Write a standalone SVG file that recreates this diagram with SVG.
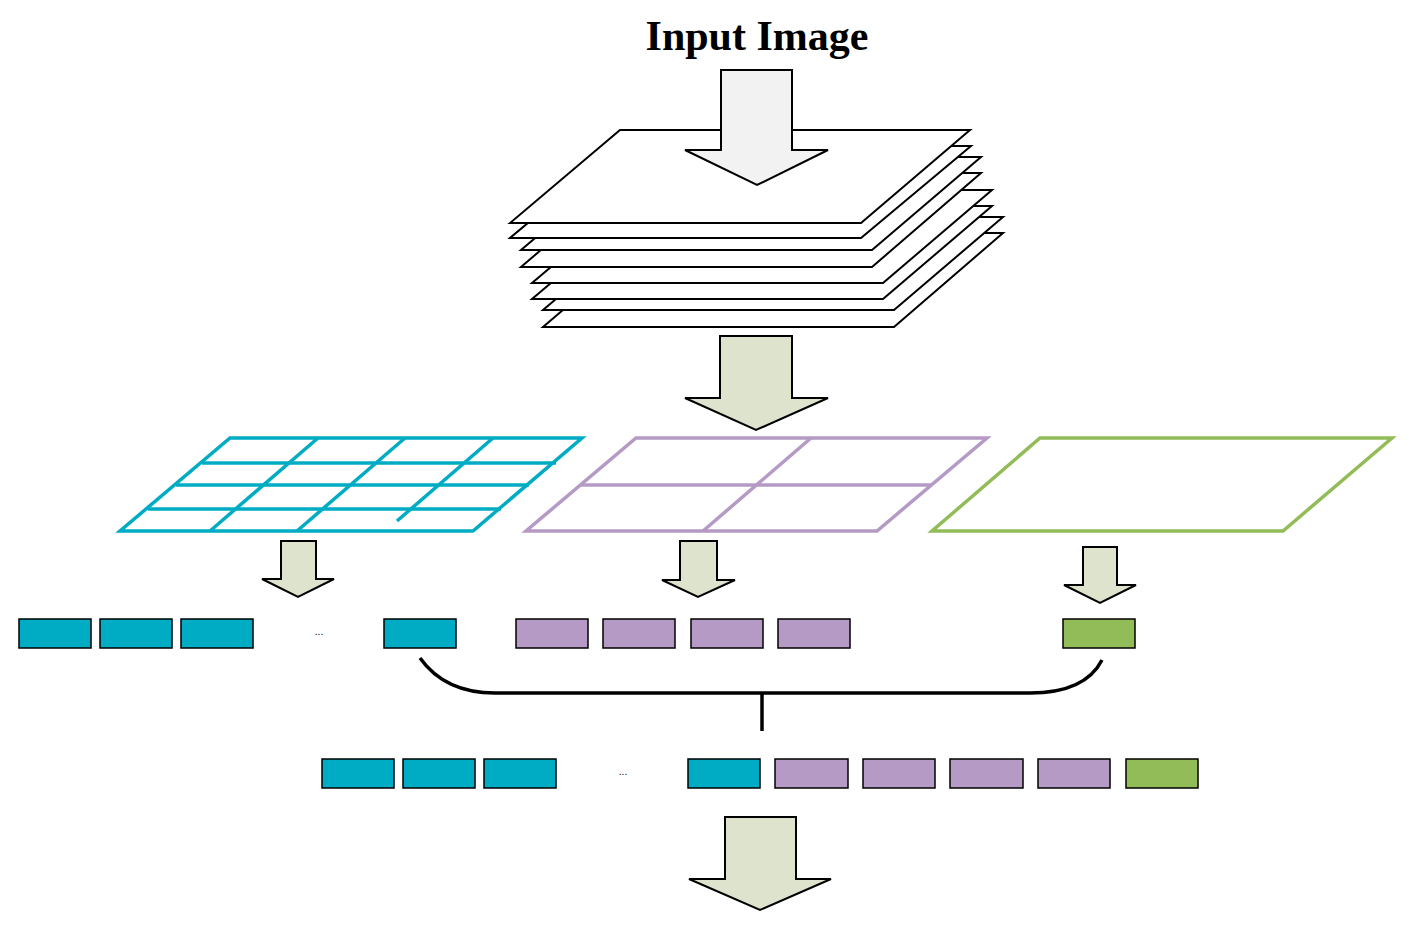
<svg xmlns="http://www.w3.org/2000/svg" width="1409" height="936" viewBox="0 0 1409 936">
<style>
.sheet{fill:#fff;stroke:#000;stroke-width:2;stroke-linejoin:miter}
.arr{fill:#dde3cc;stroke:#000;stroke-width:2}
.c{fill:#00acc4;stroke:#000;stroke-width:1.5}
.p{fill:#b49ac4;stroke:#000;stroke-width:1.5}
.g{fill:#92bc58;stroke:#000;stroke-width:1.5}
.dots{font-family:"Liberation Sans",sans-serif;font-size:10px;fill:#000}
</style>
<rect width="1409" height="936" fill="#fff"/>
<text id="title" x="757" y="50" text-anchor="middle" font-family="'Liberation Serif',serif" font-weight="bold" font-size="42">Input Image</text>
<g id="stack">
<polygon class="sheet" points="543,327 894,327 1003,233 653,233"/>
<polygon class="sheet" points="543,310 894,310 1003,217 653,217"/>
<polygon class="sheet" points="532,299 883,299 992,206 642,206"/>
<polygon class="sheet" points="532,283 883,283 992,190 642,190"/>
<polygon class="sheet" points="521,267 872,267 981,173 631,173"/>
<polygon class="sheet" points="521,250 872,250 981,157 631,157"/>
<polygon class="sheet" points="510,238 861,238 971,146 620,146"/>
<polygon class="sheet" points="510,223 861,223 970,130 620,130"/>
</g>
<g id="arrows">
<polygon points="721,70 792,70 792,150 828,150 757,185 685,150 721,150" fill="#f2f2f2" stroke="#000" stroke-width="2"/>
<polygon class="arr" points="720,336 792,336 792,398 828,398 756,430 685,398 720,398"/>
<polygon class="arr" points="281,541 316,541 316,579 334,579 298,597 262,579 281,579"/>
<polygon class="arr" points="680,541 717,541 717,580 735,580 698,597 662,580 680,580"/>
<polygon class="arr" points="1083,547 1117,547 1117,585 1136,585 1100,603 1064,585 1083,585"/>
<polygon class="arr" points="725,817 796,817 796,879 831,879 760,910 689,879 725,879"/>
</g>
<g id="grid-cyan" fill="none" stroke="#00acc4" stroke-width="3.5">
<polygon points="120,531 473,531 582,438 230,438"/>
<line x1="202" y1="463" x2="556" y2="463"/>
<line x1="176" y1="485" x2="529" y2="485"/>
<line x1="148" y1="509" x2="501" y2="509"/>
<line x1="318" y1="438" x2="210" y2="531"/>
<line x1="405" y1="438" x2="297" y2="531"/>
<line x1="493" y1="438" x2="397" y2="521"/>
</g>
<g id="grid-purple" fill="none" stroke="#b49ac4" stroke-width="3.5">
<polygon points="526,531 877,531 987,438 636,438"/>
<line x1="581" y1="485" x2="932" y2="485"/>
<line x1="811" y1="438" x2="703" y2="531"/>
</g>
<g id="grid-green" fill="none" stroke="#92bc58" stroke-width="3.5">
<polygon points="932,531 1283,531 1392,438 1040,438"/>
</g>
<g id="row1">
<rect class="c" x="19" y="619" width="72" height="29"/>
<rect class="c" x="100" y="619" width="72" height="29"/>
<rect class="c" x="181" y="619" width="72" height="29"/>
<text class="dots" x="319" y="635" text-anchor="middle">...</text>
<rect class="c" x="384" y="619" width="72" height="29"/>
<rect class="p" x="516" y="619" width="72" height="29"/>
<rect class="p" x="603" y="619" width="72" height="29"/>
<rect class="p" x="691" y="619" width="72" height="29"/>
<rect class="p" x="778" y="619" width="72" height="29"/>
<rect class="g" x="1063" y="619" width="72" height="29"/>
</g>
<g id="connectors" fill="none" stroke="#000" stroke-width="3.5">
<path d="M420,658 Q445,693 495,693 L1030,693 Q1085,693 1102,660"/>
<line x1="762" y1="693" x2="762" y2="731"/>
</g>
<g id="row2">
<rect class="c" x="322" y="759" width="72" height="29"/>
<rect class="c" x="403" y="759" width="72" height="29"/>
<rect class="c" x="484" y="759" width="72" height="29"/>
<text class="dots" x="623" y="775" text-anchor="middle">...</text>
<rect class="c" x="688" y="759" width="72" height="29"/>
<rect class="p" x="775" y="759" width="73" height="29"/>
<rect class="p" x="863" y="759" width="72" height="29"/>
<rect class="p" x="950" y="759" width="73" height="29"/>
<rect class="p" x="1038" y="759" width="72" height="29"/>
<rect class="g" x="1126" y="759" width="72" height="29"/>
</g>
</svg>
